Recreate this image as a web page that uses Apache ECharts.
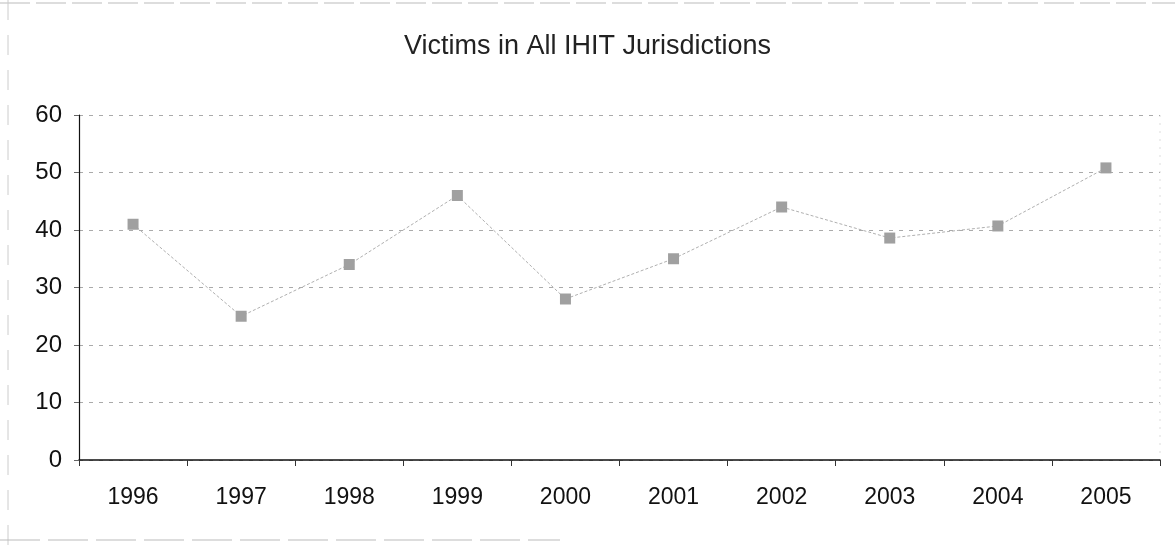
<!DOCTYPE html>
<html>
<head>
<meta charset="utf-8">
<script src="https://cdn.jsdelivr.net/npm/echarts@6/dist/echarts.min.js"></script>
<style>
  html, body { margin: 0; padding: 0; background: #fff; }
  #chart { width: 1175px; height: 545px; }
</style>
</head>
<body>
<div id="chart"></div>
<script>
var years = ['1996', '1997', '1998', '1999', '2000', '2001', '2002', '2003', '2004', '2005'];
var victims = [41, 25, 34, 46, 28, 35, 44, 38.6, 40.7, 50.8];

var myChart = echarts.init(document.getElementById('chart'));

var option = {
    backgroundColor: '#fff',
    animation: false,
    title: {
        text: 'Victims in All IHIT Jurisdictions',
        left: 'center',
        top: 28,
        textStyle: {
            fontFamily: 'Liberation Sans',
            fontSize: 27,
            fontWeight: 'normal',
            color: '#222'
        }
    },
    grid: {
        left: 79,
        right: 15,
        top: 115,
        bottom: 85
    },
    xAxis: {
        type: 'category',
        data: years,
        boundaryGap: true,
        axisLine: { lineStyle: { color: '#111', width: 1.5 } },
        axisTick: { show: true, length: 6, lineStyle: { color: '#333' } },
        axisLabel: {
            margin: 26,
            fontFamily: 'Liberation Sans',
            fontSize: 23,
            color: '#111'
        }
    },
    yAxis: {
        type: 'value',
        min: 0,
        max: 60,
        interval: 10,
        axisLine: { show: true, lineStyle: { color: '#111', width: 1.2 } },
        axisTick: { show: true, length: 5, lineStyle: { color: '#666' } },
        axisLabel: {
            margin: 17,
            fontFamily: 'Liberation Sans',
            fontSize: 24,
            color: '#111'
        },
        splitLine: {
            show: true,
            lineStyle: { color: '#aaa', type: [4, 6], width: 1 }
        }
    },
    series: [
        {
            name: 'Victims',
            type: 'line',
            data: victims,
            symbol: 'rect',
            symbolSize: 11,
            itemStyle: { color: '#a0a0a0' },
            lineStyle: { color: '#b0b0b0', width: 1, type: [3, 2] }
        }
    ],
    graphic: [
        { type: 'line', shape: { x1: 0, y1: 3, x2: 1175, y2: 3 }, style: { stroke: '#bbb', lineWidth: 1, lineDash: [30, 6] } },
        { type: 'line', shape: { x1: 8, y1: 0, x2: 8, y2: 545 }, style: { stroke: '#ccc', lineWidth: 1, lineDash: [20, 15] } },
        { type: 'line', shape: { x1: 0, y1: 540, x2: 560, y2: 540 }, style: { stroke: '#bbb', lineWidth: 1, lineDash: [40, 8] } },
        { type: 'line', shape: { x1: 1160, y1: 115, x2: 1160, y2: 460 }, style: { stroke: '#ddd', lineWidth: 1, lineDash: [2, 6] } }
    ]
};

myChart.setOption(option);
</script>
</body>
</html>
